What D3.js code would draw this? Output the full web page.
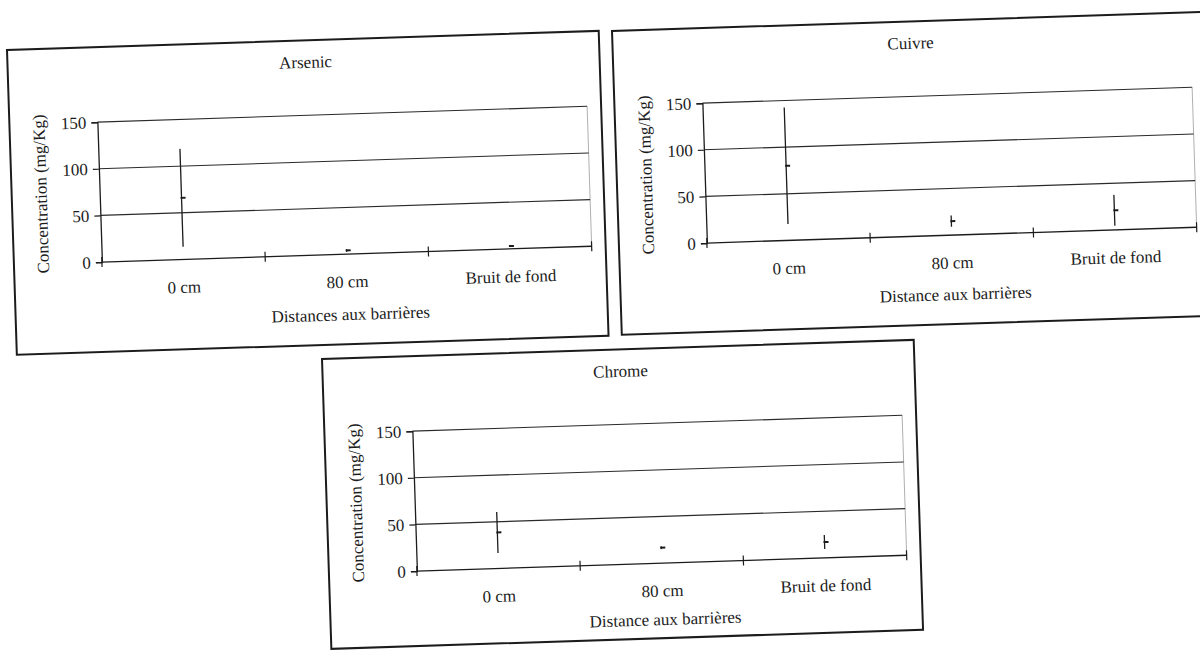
<!DOCTYPE html>
<html>
<head>
<meta charset="utf-8">
<script src="https://cdn.jsdelivr.net/npm/d3@7"></script>
<style>
  body { margin: 0; background: #fff; }
  svg { display: block; }
</style>
</head>
<body>
<div id="chart"></div>
<script>
const categories = ['0 cm', '80 cm', 'Bruit de fond'];
const yTicks = [0, 50, 100, 150];

const arsenicMean = [66, 4, 3];
const arsenicErr = [52.5, 1.5, 1];
const cuivreMean = [80, 15, 21];
const cuivreErr = [62.5, 6, 16.5];
const chromeMean = [38.5, 16.5, 17];
const chromeErr = [22, 1.5, 7.5];

const W = 1200, H = 654;
const ink = '#1c1c1c';
const font = '"Liberation Serif", "DejaVu Serif", serif';
const fs = '17px';

// each scanned panel sits slightly tilted on the page
const panels = [
  { title: 'Arsenic', xTitle: 'Distances aux barrières', mean: arsenicMean, err: arsenicErr,
    x: 7, y: 50, h: 305, xTitleY: 281 },
  { title: 'Cuivre', xTitle: 'Distance aux barrières', mean: cuivreMean, err: cuivreErr,
    x: 612, y: 31, h: 304, xTitleY: 280 },
  { title: 'Chrome', xTitle: 'Distance aux barrières', mean: chromeMean, err: chromeErr,
    x: 322, y: 359, h: 290, xTitleY: 277 }
];

const panelW = 592;
const angle = -1.85;
const plot = { left: 88, right: 578, top: 75, bottom: 215 };

const svg = d3.select('#chart').append('svg')
  .attr('width', W)
  .attr('height', H);

svg.append('rect').attr('width', W).attr('height', H).attr('fill', '#fff');

const x = d3.scaleBand().domain(categories).range([plot.left, plot.right]).padding(0);
const y = d3.scaleLinear().domain([0, 150]).range([plot.bottom, plot.top]);

panels.forEach(p => {
  const g = svg.append('g')
    .attr('transform', `translate(${p.x},${p.y}) rotate(${angle})`);

  // outer frame
  g.append('rect')
    .attr('width', panelW)
    .attr('height', p.h)
    .attr('fill', 'none')
    .attr('stroke', ink)
    .attr('stroke-width', 2);

  g.append('text')
    .attr('x', 298)
    .attr('y', 27.5)
    .attr('text-anchor', 'middle')
    .attr('font-family', font)
    .attr('font-size', fs)
    .attr('fill', ink)
    .text(p.title);

  // plot area border (light, right side)
  g.append('line')
    .attr('x1', plot.right).attr('x2', plot.right)
    .attr('y1', plot.top).attr('y2', plot.bottom)
    .attr('stroke', '#b0b0b0')
    .attr('stroke-width', 1);

  // gridlines
  g.selectAll('.grid')
    .data(yTicks.filter(t => t > 0))
    .enter().append('line')
    .attr('x1', plot.left).attr('x2', plot.right)
    .attr('y1', d => y(d)).attr('y2', d => y(d))
    .attr('stroke', '#2a2a2a')
    .attr('stroke-width', 1.1);

  // y axis
  const yAxis = d3.axisLeft(y).tickValues(yTicks).tickSize(6).tickPadding(5);
  const ya = g.append('g')
    .attr('transform', `translate(${plot.left},0)`)
    .call(yAxis);
  ya.select('.domain').attr('stroke', ink).attr('stroke-width', 1.3);
  ya.selectAll('.tick line').attr('stroke', ink).attr('stroke-width', 1.2);
  ya.selectAll('.tick text')
    .attr('font-family', font)
    .attr('font-size', fs)
    .attr('fill', ink);

  // x axis with crossing ticks at band boundaries
  g.append('line')
    .attr('x1', plot.left).attr('x2', plot.right)
    .attr('y1', y(0)).attr('y2', y(0))
    .attr('stroke', ink)
    .attr('stroke-width', 1.3);

  const bounds = categories.map(c => x(c)).concat([x.range()[1]]);
  g.selectAll('.xtick')
    .data(bounds)
    .enter().append('line')
    .attr('x1', d => d).attr('x2', d => d)
    .attr('y1', y(0) - 5).attr('y2', y(0) + 5)
    .attr('stroke', ink)
    .attr('stroke-width', 1.2);

  g.selectAll('.xlab')
    .data(categories)
    .enter().append('text')
    .attr('x', d => x(d) + x.bandwidth() / 2)
    .attr('y', 248.5)
    .attr('text-anchor', 'middle')
    .attr('font-family', font)
    .attr('font-size', fs)
    .attr('fill', ink)
    .text(d => d);

  g.append('text')
    .attr('x', 335)
    .attr('y', p.xTitleY)
    .attr('text-anchor', 'middle')
    .attr('font-family', font)
    .attr('font-size', fs)
    .attr('fill', ink)
    .text(p.xTitle);

  g.append('text')
    .attr('transform', `translate(35,${(plot.top + plot.bottom) / 2}) rotate(-90)`)
    .attr('text-anchor', 'middle')
    .attr('font-family', font)
    .attr('font-size', fs)
    .attr('fill', ink)
    .text('Concentration (mg/Kg)');

  // error bars and mean markers
  const pts = categories.map((c, i) => ({ c, m: p.mean[i], e: p.err[i] }));
  g.selectAll('.err')
    .data(pts)
    .enter().append('line')
    .attr('x1', d => x(d.c) + x.bandwidth() / 2)
    .attr('x2', d => x(d.c) + x.bandwidth() / 2)
    .attr('y1', d => y(d.m + d.e))
    .attr('y2', d => y(Math.max(0, d.m - d.e)))
    .attr('stroke', ink)
    .attr('stroke-width', 1.3);

  g.selectAll('.mean')
    .data(pts)
    .enter().append('line')
    .attr('x1', d => x(d.c) + x.bandwidth() / 2 - 1)
    .attr('x2', d => x(d.c) + x.bandwidth() / 2 + 4)
    .attr('y1', d => y(d.m))
    .attr('y2', d => y(d.m))
    .attr('stroke', ink)
    .attr('stroke-width', 2);
});
</script>
</body>
</html>
